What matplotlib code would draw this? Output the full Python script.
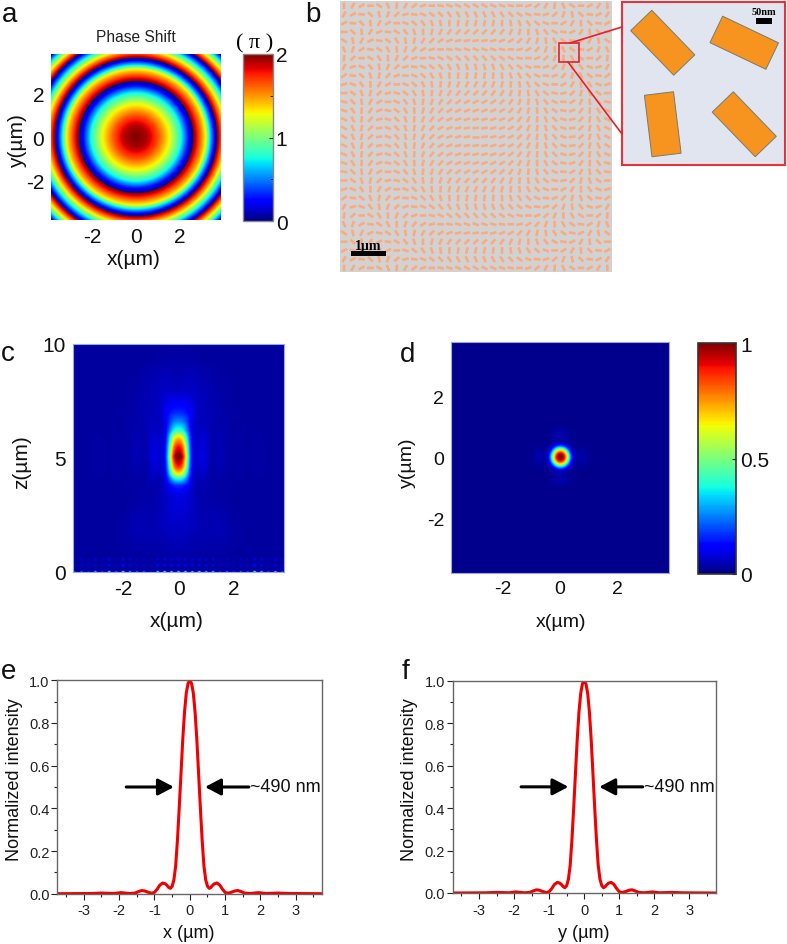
import numpy as np
import matplotlib
matplotlib.use('Agg')
import matplotlib.pyplot as plt
from matplotlib.collections import LineCollection
from matplotlib.lines import Line2D
from matplotlib.patches import Rectangle
from matplotlib.transforms import Affine2D

W, H = 787, 945

# panel a: lens phase (radius in um, unwrapped phase in pi)
phase_r = [0, 0.5, 1.0, 1.5, 2.05, 2.42, 2.6, 3.15, 3.33, 3.56, 3.68, 4.0, 4.3, 4.65, 5.0, 5.5]
phase_p = [1.999, 1.92, 1.65, 1.3, 0.75, 0.22, 0.0, -0.7, -1.25, -1.78, -2.0, -2.6, -3.23, -4.0, -4.79, -6.0]

rod_pitch = 0.25
rod_count = 31
rod_r = [0, 1.0, 1.87, 2.7, 3.35, 3.95, 4.4, 4.8, 5.3, 5.5]
rod_p = [2, 1.7, 1, 0, -1, -2, -3, -4, -5, -5.4]
inset_x = [125, 375, 125, 375]
inset_y = [375, 375, 125, 125]
inset_angle = [-46, -25.5, -83, -46]

# panels e, f: line profile, x >= 0, mirrored when drawn
prof_x = [0, 0.05, 0.1, 0.15, 0.2, 0.25, 0.3, 0.35, 0.4, 0.45, 0.5, 0.55, 0.6, 0.65, 0.7, 0.77,
          0.85, 0.92, 1.0, 1.08, 1.2, 1.28, 1.36, 1.45, 1.55, 1.7, 1.95, 2.15, 2.5, 2.8, 3.75]
prof_e = [1.0, 0.985, 0.94, 0.85, 0.72, 0.56, 0.40, 0.25, 0.13, 0.065, 0.035, 0.025, 0.03, 0.04, 0.047, 0.05,
          0.04, 0.022, 0.006, 0.002, 0.008, 0.013, 0.015, 0.01, 0.003, 0.001, 0.005, 0.001, 0.003, 0.001, 0.0]

# panel c: focal spot along z (amplitude, width relative to the profile above)
focus_z = [0, 3.0, 3.4, 3.8, 4.1, 4.3, 4.6, 5.05, 5.5, 5.9, 6.2, 6.6, 7.0, 7.5, 8.0, 10]
focus_amp = [0, 0.03, 0.04, 0.12, 0.35, 0.6, 0.82, 1.0, 0.85, 0.65, 0.38, 0.22, 0.12, 0.06, 0.02, 0]
focus_w = [2.2, 1.8, 1.6, 1.35, 1.2, 1.15, 1.15, 1.15, 1.15, 1.15, 1.2, 1.3, 1.6, 1.8, 2.2, 2.2]

# panel c: faint lobes around the focus
faint_x = [0, 0.5, 1.0, 1.5, 2.0, 2.5, 3.8]
faint_z = [0.7, 1.5, 2.0, 2.5, 3.0, 4.0, 5.0, 6.0, 7.0, 8.0, 8.8, 9.2, 10]
faint = [[0.000, 0.000, 0.000, 0.000, 0.000, 0.00, 0.00],
         [0.012, 0.008, 0.014, 0.014, 0.004, 0.00, 0.00],
         [0.008, 0.018, 0.014, 0.018, 0.004, 0.00, 0.00],
         [0.018, 0.014, 0.014, 0.014, 0.000, 0.00, 0.00],
         [0.022, 0.014, 0.008, 0.004, 0.000, 0.00, 0.00],
         [0.022, 0.012, 0.004, 0.000, 0.000, 0.00, 0.00],
         [0.012, 0.012, 0.008, 0.004, 0.000, 0.00, 0.00],
         [0.012, 0.018, 0.012, 0.008, 0.000, 0.00, 0.00],
         [0.012, 0.022, 0.014, 0.008, 0.000, 0.00, 0.00],
         [0.004, 0.018, 0.018, 0.004, 0.000, 0.00, 0.00],
         [0.000, 0.012, 0.012, 0.000, 0.000, 0.00, 0.00],
         [0.000, 0.000, 0.000, 0.000, 0.000, 0.00, 0.00],
         [0.000, 0.000, 0.000, 0.000, 0.000, 0.00, 0.00]]

# panel c: near field speckle at the metasurface, one value per rod column
near_weight = [1.0, 0.2, 0.15]
near_dots = [0.25, 0.3, 0.2, 0.45, 0.2, 0.55, 0.3, 0.65, 0.4, 0.3, 0.3, 0.15, 0.55, 0.6, 0.5,
             0.55, 0.6, 0.5, 0.6, 0.45, 0.5, 0.2, 0.3, 0.2, 0.3, 0.25, 0.7, 0.5, 0.25, 0.5, 0.25]

plt.rcParams['font.family'] = ['Liberation Sans', 'DejaVu Sans']
plt.rcParams['axes.unicode_minus'] = False

fig = plt.figure(figsize=(W / 100, H / 100), dpi=100)
px = Affine2D().scale(1, -1).translate(0, H)


def add_ax(left, top, right, bottom):
    return fig.add_axes([left / W, 1 - bottom / H, (right - left) / W, (bottom - top) / H])


def style_image_ax(ax, size=14, edge='none'):
    ax.tick_params(length=0, labelsize=size, pad=5, colors='#111111')
    for s in ax.spines.values():
        s.set_edgecolor(edge)
        s.set_linewidth(0.8)


def labels(ax, xtext, ytext, xpos, ypos, size=14):
    ax.set_xlabel(xtext, fontsize=size, va='center', color='#111111')
    ax.set_ylabel(ytext, fontsize=size, va='center', color='#111111')
    ax.xaxis.set_label_coords(xpos[0], xpos[1], transform=px)
    ax.yaxis.set_label_coords(ypos[0], ypos[1], transform=px)


def letter(x, y, s):
    fig.text(x / W, 1 - y / H, s, fontsize=20, ha='left', va='center', color='#111111')


def profile(x):
    return np.interp(np.abs(x), prof_x, prof_e)


# panel a
extent_a = 3.85
xa = np.linspace(-extent_a, extent_a, 500)
Xa, Ya = np.meshgrid(xa, xa)
phase = np.interp(np.hypot(Xa, Ya), phase_r, phase_p) % 2

ax = add_ax(51, 55, 221, 221)
im = ax.imshow(phase, extent=[-extent_a, extent_a, -extent_a, extent_a], origin='lower',
               cmap='jet', vmin=0, vmax=2, aspect='auto')
ax.set_xticks([-2, 0, 2])
ax.set_yticks([-2, 0, 2])
style_image_ax(ax, 15)
labels(ax, 'x(µm)', 'y(µm)', (134, 260), (17.5, 141), 15)
ax.set_title('Phase Shift', fontsize=11.2, color='#222222', pad=9)

cax = add_ax(243, 55, 273, 222)
cb = fig.colorbar(im, cax=cax, ticks=[0, 1, 2])
cb.ax.set_yticklabels(['0', '1', '2'])
cb.ax.tick_params(labelsize=15, length=3, direction='in', pad=2, colors='#111111')
cb.ax.set_yticks([0.5, 1.5], minor=True)
cb.ax.tick_params(which='minor', length=2, direction='in')
cb.outline.set_edgecolor('#888888')
cb.outline.set_linewidth(1)
fig.text(255 / W, 1 - 44 / H, '( π )', fontsize=16, ha='center', va='center', family=['Liberation Serif'])

# panel b
extent_b = 3.875
ax = add_ax(339.7, 2.3, 611.7, 273.3)
ax.set_facecolor('#d2d2d2')
grid = (np.arange(rod_count) - (rod_count - 1) / 2) * rod_pitch
Xb, Yb = np.meshgrid(grid, grid)
theta = -np.radians(np.interp(np.hypot(Xb, Yb), rod_r, rod_p) * 90)
half = 0.095
segs = np.stack([np.stack([Xb - half * np.cos(theta), Yb - half * np.sin(theta)], axis=-1),
                 np.stack([Xb + half * np.cos(theta), Yb + half * np.sin(theta)], axis=-1)], axis=2)
ax.add_collection(LineCollection(segs.reshape(-1, 2, 2), colors='#fbaa80', linewidths=1.9, capstyle='butt'))
ax.set_xlim(-extent_b, extent_b)
ax.set_ylim(-extent_b, extent_b)
ax.set_xticks([])
ax.set_yticks([])
for s in ax.spines.values():
    s.set_visible(False)
ax.add_patch(Rectangle((-3.55, -3.405), 1.0, 0.15, fc='black', ec='none', zorder=3))
ax.text(-3.05, -3.1, '1µm', fontsize=10, fontweight='bold', family=['Liberation Serif'],
        ha='center', va='center', zorder=3)
ax.add_patch(Rectangle((2.37, 2.13), 0.58, 0.555, fc='none', ec='#e8202a', lw=1.2, zorder=3))

ins = add_ax(622, 3, 785, 166)
ins.set_facecolor('#e1e5ef')
for cx, cy, a in zip(inset_x, inset_y, inset_angle):
    rect = Rectangle((-95, -45), 190, 90, fc='#f79420', ec='#7a7a6a', lw=0.7,
                     transform=Affine2D().rotate_deg(a).translate(cx, cy) + ins.transData)
    ins.add_patch(rect)
ins.set_xlim(0, 500)
ins.set_ylim(0, 500)
ins.set_xticks([])
ins.set_yticks([])
for s in ins.spines.values():
    s.set_edgecolor('#ea3038')
    s.set_linewidth(1.5)
ins.add_patch(Rectangle((411, 434), 50, 16, fc='black', ec='none'))
ins.text(436, 472, '50nm', fontsize=7.5, fontweight='bold', family=['Liberation Serif'], ha='center', va='center')

fig.add_artist(Line2D([570, 622], [44, 28], color='#e8202a', lw=1.2, transform=px))
fig.add_artist(Line2D([568, 622], [63, 135], color='#e8202a', lw=1.2, transform=px))

# panel c
extent_c = 3.8
xc = np.linspace(-extent_c, extent_c, 420)
zc = np.linspace(0, 10, 500)
Xc, Zc = np.meshgrid(xc, zc)
amp = np.interp(Zc, focus_z, focus_amp)
wid = np.interp(Zc, focus_z, focus_w)
field = amp * profile(Xc / wid)

# faint lobes: lookup of the table above, mirrored in x
faint = np.array(faint)
rows = np.array([np.interp(np.abs(xc), faint_x, r) for r in faint])
lobes = np.array([np.interp(zc, faint_z, rows[:, j]) for j in range(len(xc))]).T

# near field dots, zero between the lattice columns and rows
dot_x = (np.arange(rod_count) - (rod_count - 1) / 2) * rod_pitch
xline = np.interp(xc, np.ravel(np.column_stack([dot_x - 0.08, dot_x, dot_x + 0.08])),
                  np.ravel(np.column_stack([np.zeros(rod_count), near_dots, np.zeros(rod_count)])))
zline = np.interp(zc, [0.0, 0.06, 0.18, 0.28, 0.38, 0.45, 0.55, 0.65],
                  [near_weight[0], 0, 0, near_weight[1], 0, 0, near_weight[2], 0])
near = np.outer(zline, xline)

image_c = np.clip(0.03 + field + lobes + near, 0, 1)
ax = add_ax(73, 345, 284, 573)
ax.imshow(image_c, extent=[-extent_c, extent_c, 0, 10], origin='lower', cmap='jet', vmin=0, vmax=1,
          aspect='auto', interpolation='bilinear')
ax.set_xticks([-2, 0, 2])
ax.set_yticks([0, 5, 10])
style_image_ax(ax, 15, '#9aa8e8')
labels(ax, 'x(µm)', 'z(µm)', (177, 622), (22, 462), 15)

# panel d
extent_d = 3.8
xd = np.linspace(-extent_d, extent_d, 500)
Xd, Yd = np.meshgrid(xd, xd)
Rd = np.hypot(Xd, Yd)
# round main lobe, only the first side lobes on the axes and those weaker than in e
spot = np.where(Rd < 0.55, profile(Rd), 0.6 * profile(Xd) * profile(Yd) * (Rd < 1.1))
image_d = 0.012 + spot
ax = add_ax(451, 342.7, 669.3, 574)
imd = ax.imshow(image_d, extent=[-extent_d, extent_d, -extent_d, extent_d], origin='lower', cmap='jet',
                vmin=0, vmax=1, aspect='auto', interpolation='bilinear')
ax.set_xticks([-2, 0, 2])
ax.set_yticks([-2, 0, 2])
style_image_ax(ax, 14, '#9aa8e8')
labels(ax, 'x(µm)', 'y(µm)', (561, 623), (407, 463), 14)

cax = add_ax(698, 344, 736, 575)
cb = fig.colorbar(imd, cax=cax, ticks=[0, 0.5, 1])
cb.ax.set_yticklabels(['0', '0.5', '1'])
cb.ax.tick_params(labelsize=15, length=3, direction='in', pad=3, colors='#111111')
cb.outline.set_edgecolor('#333333')
cb.outline.set_linewidth(1.2)

# panels e and f
for box, name, lab_x, lab_y in [((57.3, 681.3, 322.3, 894.7), 'x (µm)', 189, 15),
                                ((452.7, 681.7, 715.7, 894), 'y (µm)', 584, 409)]:
    ax = add_ax(*box)
    x = np.concatenate([-np.array(prof_x)[::-1], prof_x[1:]])
    y = np.concatenate([np.array(prof_e)[::-1], prof_e[1:]])
    ax.plot(x, y, color='#f00000', lw=2.2, solid_joinstyle='round')
    ax.set_xlim(-3.75, 3.75)
    ax.set_ylim(0, 1)
    ax.set_xticks(range(-3, 4))
    ax.set_xticks(np.arange(-3.5, 4, 1), minor=True)
    ax.set_yticks(np.arange(0, 1.01, 0.2))
    ax.set_yticks(np.arange(0.1, 1, 0.2), minor=True)
    ax.tick_params(which='major', length=4, width=0.8, labelsize=10.5, pad=3, colors='#222222')
    ax.tick_params(axis='y', which='major', pad=1.5)
    ax.tick_params(which='minor', length=2.5, width=0.8, colors='#222222')
    for s in ax.spines.values():
        s.set_edgecolor('#666666')
        s.set_linewidth(1)
    labels(ax, name, 'Normalized intensity', (lab_x, 934), (lab_y, 780), 13)
    style = dict(arrowstyle='-|>,head_length=0.95,head_width=0.5', color='black', lw=2.2, shrinkA=0, shrinkB=0)
    ax.annotate('', xy=(-0.45, 0.5), xytext=(-1.80, 0.5), arrowprops=style)
    ax.annotate('', xy=(0.43, 0.5), xytext=(1.67, 0.5), arrowprops=style)
    ax.text(1.71, 0.5, '~490 nm', fontsize=13, ha='left', va='center', color='#111111')

letter(2, 15, 'a')
letter(305, 15, 'b')
letter(1, 354, 'c')
letter(400, 355, 'd')
letter(1, 672, 'e')
letter(402, 672, 'f')

fig.savefig('out.png', dpi=100)
